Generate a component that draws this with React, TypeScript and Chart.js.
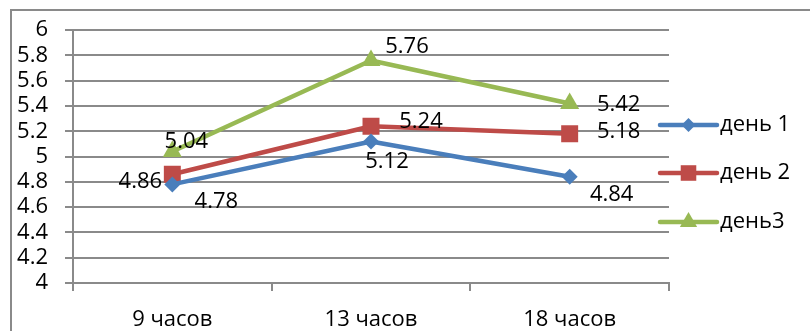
import React, { useEffect, useRef } from "react";
import { Chart, registerables } from "chart.js";
import { drawPoint } from "chart.js/helpers";

Chart.register(...registerables);

// Measurement times and readings per day
const categories = ["9 часов", "13 часов", "18 часов"];
const day1 = [4.78, 5.12, 4.84];
const day2 = [4.86, 5.24, 5.18];
const day3 = [5.04, 5.76, 5.42];
const seriesNames = ["день 1", "день 2", "день3"];
const seriesColors = ["#4A7EBB", "#BE4B48", "#98B954"];
const pointStyles = ["rectRot", "rect", "triangle"] as const;
const pointRadii = [8, 12, 11];

// Value-label placement (text centre relative to the point), in px
const labelOffsets: [number, number][][] = [
  [[44, 17], [16, 20], [42, 18]],
  [[-32, 7], [50, -5], [49, -2]],
  [[14, -10], [36, -14], [49, 1]],
];

const FONT = "'Open Sans', 'DejaVu Sans', sans-serif";
const GRAY = "#8a8a8a";

const framePlugin = {
  id: "frame",
  beforeDraw(chart: any) {
    const ctx = chart.ctx;
    ctx.save();
    ctx.fillStyle = "#ffffff";
    ctx.fillRect(0, 0, chart.width, chart.height);
    ctx.strokeStyle = GRAY;
    ctx.lineWidth = 2;
    ctx.strokeRect(11, 10, 900, 400);
    ctx.restore();
  },
};

const valueLabelPlugin = {
  id: "valueLabels",
  afterDatasetsDraw(chart: any) {
    const ctx = chart.ctx;
    ctx.save();
    ctx.font = `22px ${FONT}`;
    ctx.fillStyle = "#000";
    ctx.textAlign = "center";
    ctx.textBaseline = "middle";
    chart.data.datasets.forEach((ds: any, di: number) => {
      const meta = chart.getDatasetMeta(di);
      meta.data.forEach((pt: any, i: number) => {
        const [dx, dy] = labelOffsets[di][i];
        ctx.fillText(String(ds.data[i]), pt.x + dx, pt.y + dy);
      });
    });
    ctx.restore();
  },
};

const sideLegendPlugin = {
  id: "sideLegend",
  afterDraw(chart: any) {
    const ctx = chart.ctx;
    const x0 = 660;
    const x1 = 717;
    const rows = [125, 173, 222];
    ctx.save();
    seriesNames.forEach((name, i) => {
      const y = rows[i];
      ctx.strokeStyle = seriesColors[i];
      ctx.lineWidth = 4.5;
      ctx.lineCap = "round";
      ctx.beginPath();
      ctx.moveTo(x0, y);
      ctx.lineTo(x1, y);
      ctx.stroke();
      ctx.fillStyle = seriesColors[i];
      drawPoint(
        ctx,
        {
          pointStyle: pointStyles[i],
          radius: pointRadii[i] - 1,
          rotation: 0,
          borderWidth: 0,
        } as any,
        (x0 + x1) / 2,
        y
      );
      ctx.fillStyle = "#000";
      ctx.font = `22px ${FONT}`;
      ctx.textAlign = "left";
      ctx.textBaseline = "middle";
      ctx.fillText(name, 720, y);
    });
    ctx.restore();
  },
};

export default function App() {
  const canvasRef = useRef<HTMLCanvasElement | null>(null);

  useEffect(() => {
    document.body.style.margin = "0";
    const canvas = canvasRef.current;
    if (!canvas) return;
    const values = [day1, day2, day3];
    const chart = new Chart(canvas, {
      type: "line",
      data: {
        labels: categories,
        datasets: values.map((v, i) => ({
          label: seriesNames[i],
          data: v,
          borderColor: seriesColors[i],
          backgroundColor: seriesColors[i],
          borderWidth: 4.5,
          borderJoinStyle: "round" as const,
          borderCapStyle: "round" as const,
          pointStyle: pointStyles[i],
          pointRadius: pointRadii[i],
          pointBorderWidth: 0,
          pointBackgroundColor: seriesColors[i],
          tension: 0,
        })),
      },
      options: {
        animation: false,
        responsive: false,
        devicePixelRatio: 1,
        layout: { padding: { top: 28, right: 141, left: 0, bottom: 0 } },
        plugins: {
          legend: { display: false },
          tooltip: { enabled: false },
        },
        scales: {
          x: {
            type: "category",
            offset: true,
            grid: {
              offset: true,
              drawOnChartArea: false,
              drawTicks: true,
              tickLength: 8,
              color: GRAY,
              lineWidth: 2,
            },
            border: { display: true, color: GRAY, width: 2 },
            ticks: {
              color: "#000",
              font: { family: FONT, size: 22 },
              padding: 16,
              maxRotation: 0,
              autoSkip: false,
            },
            afterFit(scale: any) {
              scale.height = 48;
            },
          },
          y: {
            min: 4,
            max: 6,
            ticks: {
              stepSize: 0.2,
              autoSkip: false,
              color: "#000",
              font: { family: FONT, size: 22 },
              padding: 17,
              callback: (v: any) => String(Number(Number(v).toFixed(1))),
            },
            grid: {
              color: GRAY,
              lineWidth: 2,
              tickLength: 8,
            },
            border: { display: true, color: GRAY, width: 2 },
            afterFit(scale: any) {
              scale.width = 73;
            },
          },
        },
      },
      plugins: [framePlugin, valueLabelPlugin, sideLegendPlugin],
    });
    return () => chart.destroy();
  }, []);

  return (
    <div style={{ position: "absolute", left: 0, top: 0, width: 810, height: 331, background: "#fff" }}>
      <canvas ref={canvasRef} width={810} height={331} />
    </div>
  );
}
